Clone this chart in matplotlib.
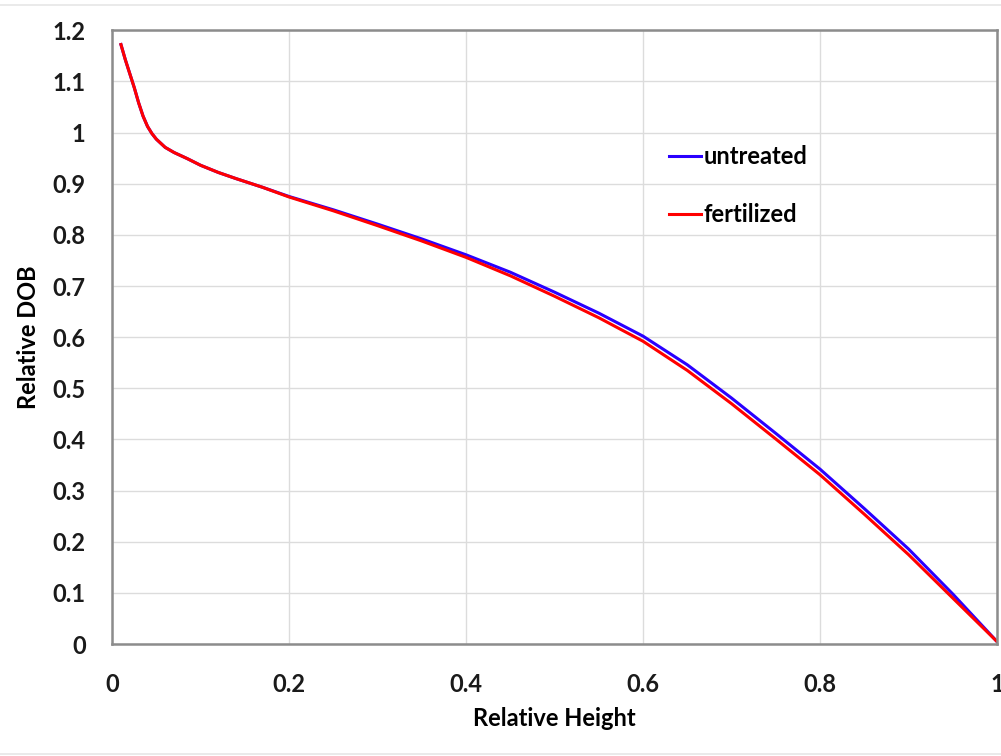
import numpy as np
import matplotlib.pyplot as plt
from matplotlib.lines import Line2D

# values
# steep butt section: both treatments overlap
rel_height_early = [0.010, 0.015, 0.020, 0.025, 0.030, 0.035, 0.040, 0.045, 0.050,
                    0.060, 0.070, 0.085, 0.100, 0.120, 0.140, 0.170]
dob_early = [1.172, 1.142, 1.115, 1.088, 1.058, 1.032, 1.012, 0.998, 0.987,
             0.971, 0.961, 0.949, 0.936, 0.922, 0.910, 0.893]

rel_height = [0.20, 0.25, 0.30, 0.35, 0.40, 0.45, 0.50, 0.55, 0.60,
              0.65, 0.70, 0.75, 0.80, 0.85, 0.90, 0.95, 1.00]
untreated = [0.875, 0.849, 0.821, 0.792, 0.761, 0.727, 0.688, 0.647, 0.602,
             0.546, 0.481, 0.412, 0.342, 0.265, 0.186, 0.098, 0.005]
fertilized = [0.874, 0.847, 0.818, 0.788, 0.756, 0.720, 0.680, 0.638, 0.592,
              0.535, 0.470, 0.401, 0.331, 0.254, 0.175, 0.090, 0.005]

x_all = rel_height_early + rel_height
y_untreated = dob_early + untreated
y_fertilized = dob_early + fertilized

plt.rcParams['font.family'] = ['Lato', 'DejaVu Sans']
plt.rcParams['font.weight'] = 'bold'

fig = plt.figure(figsize=(10.01, 7.56), dpi=100)
ax = fig.add_axes([0.112, 0.148, 0.884, 0.812])

ax.plot(x_all, y_untreated, color='#2a00ff', lw=2.2, label='untreated',
        solid_joinstyle='round')
ax.plot(x_all, y_fertilized, color='#ff0000', lw=2.2, label='fertilized',
        solid_joinstyle='round')

ax.set_xlim(0, 1)
ax.set_ylim(0, 1.2)
ax.set_xticks(np.arange(0, 1.01, 0.2))
ax.set_xticklabels(['0', '0.2', '0.4', '0.6', '0.8', '1'])
ax.set_yticks(np.arange(0, 1.21, 0.1))
ax.set_yticklabels(['0', '0.1', '0.2', '0.3', '0.4', '0.5', '0.6', '0.7',
                    '0.8', '0.9', '1', '1.1', '1.2'])
ax.tick_params(length=0, labelsize=17, colors='#1a1a1a')
ax.tick_params(axis='y', pad=19)
ax.tick_params(axis='x', pad=21)
ax.grid(True, color='#dcdcdc', lw=1)
ax.set_axisbelow(True)
for s in ax.spines.values():
    s.set_color('#8c8c8c')
    s.set_linewidth(1.8)

ax.set_xlabel('Relative Height', fontsize=17, fontweight='bold', labelpad=8)
ax.set_ylabel('Relative DOB', fontsize=17, fontweight='bold', labelpad=9)

ax.legend(loc='upper left', bbox_to_anchor=(0.605, 0.848), frameon=False,
          fontsize=17, handlelength=1.36, handletextpad=0.1, labelspacing=1.5)

# light border lines of the original picture
fig.add_artist(Line2D([0, 1], [0.993, 0.993], color='#e6e6e6', lw=1.2))
fig.add_artist(Line2D([0, 1], [0.003, 0.003], color='#e6e6e6', lw=1.2))

fig.savefig('out.png', dpi=100)
